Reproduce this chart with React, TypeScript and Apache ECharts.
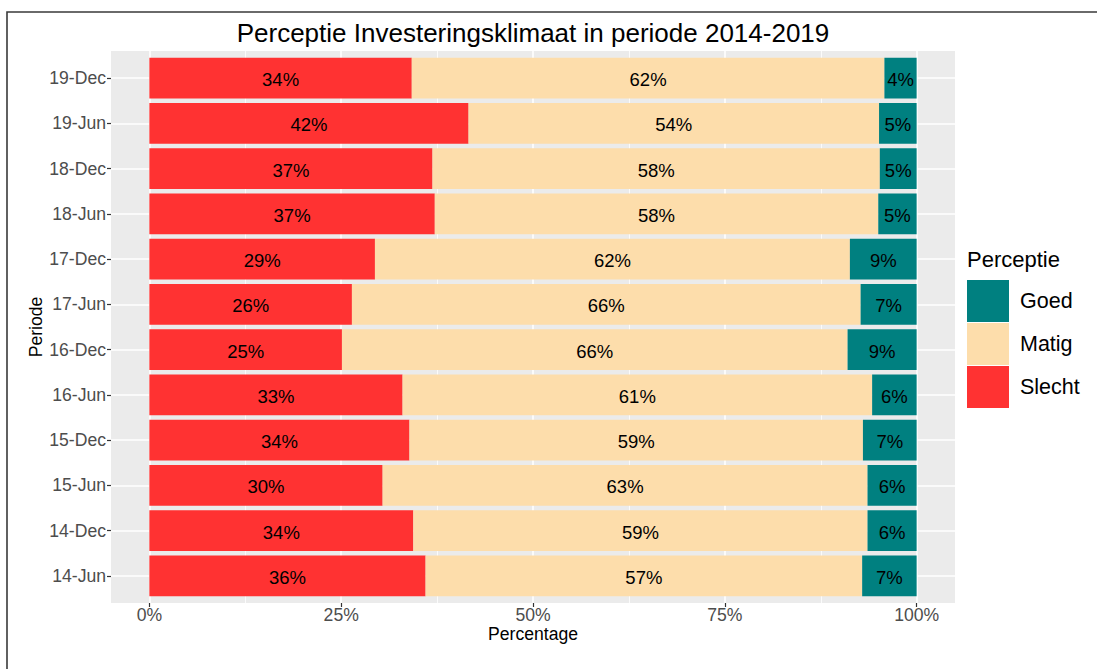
import React, { useEffect, useRef } from "react";
import * as echarts from "echarts";

const categories = ["14-Jun", "14-Dec", "15-Jun", "15-Dec", "16-Jun", "16-Dec", "17-Jun", "17-Dec", "18-Jun", "18-Dec", "19-Jun", "19-Dec"];
const slecht = [36.0, 34.4, 30.4, 33.9, 33.0, 25.1, 26.4, 29.4, 37.2, 36.9, 41.6, 34.2];
const matig = [56.9, 59.2, 63.2, 59.1, 61.2, 65.9, 66.3, 61.9, 57.8, 58.3, 53.5, 61.6];
const goed = [7.1, 6.4, 6.4, 7.0, 5.8, 9.0, 7.3, 8.7, 5.0, 4.8, 4.9, 4.2];
const xTicks = [0, 25, 50, 75, 100];

const FONT = '"Liberation Sans", Arial, Helvetica, sans-serif';
const COLORS = { Slecht: "#FF3232", Matig: "#FDDDAB", Goed: "#008080" };

export default function App() {
  const ref = useRef<HTMLDivElement>(null);
  useEffect(() => {
    if (!ref.current) return;
    const chart = echarts.init(ref.current, null, { renderer: "svg" });
    const mkSeries = (name: string, data: number[]) => ({
      name,
      type: "bar",
      stack: "total",
      xAxisIndex: 3,
      yAxisIndex: 3,
      barCategoryGap: "10%",
      data,
      itemStyle: { color: (COLORS as any)[name] },
      label: {
        show: true,
        position: "inside",
        color: "#000",
        fontSize: 18.5,
        fontFamily: FONT,
        offset: [0, 1.5],
        formatter: (p: any) => Math.round(p.value) + "%",
      },
      z: 3,
    });
    const hiddenVal = (gridIndex: number, min: number, max: number) => ({
      type: "value",
      gridIndex,
      min,
      max,
      show: false,
      splitLine: { show: false },
    });
    chart.setOption({
      animation: false,
      textStyle: { fontFamily: FONT },
      grid: [
        { left: 111, top: 51, width: 844, height: 552, show: true, backgroundColor: "#EBEBEB", borderWidth: 0, z: -10 },
        { left: 149.4, top: 51, width: 767.3, height: 552 },
        { left: 111, top: 78.15, width: 844, height: 497.7 },
        { left: 111, top: 55.5, width: 844, height: 543 },
      ],
      xAxis: [
        hiddenVal(0, -5, 105),
        {
          type: "value",
          gridIndex: 1,
          min: xTicks[0],
          max: xTicks[xTicks.length - 1],
          interval: xTicks[1] - xTicks[0],
          z: 1,
          axisLine: { show: false },
          axisTick: { show: true, length: 4, lineStyle: { color: "#333333", width: 1.2 } },
          axisLabel: { color: "#4D4D4D", fontSize: 17.6, margin: 3, formatter: "{value}%" },
          splitLine: { show: true, lineStyle: { color: "#FFFFFF", width: 1.6 } },
          minorTick: { show: false, splitNumber: 2 },
          minorSplitLine: { show: true, lineStyle: { color: "#FFFFFF", width: 0.8 } },
          name: "Percentage",
          nameLocation: "middle",
          nameGap: 22,
          nameMoveOverlap: false,
          nameTextStyle: { color: "#000", fontSize: 17.6 },
        },
        hiddenVal(2, 0, 1),
        hiddenVal(3, -5, 105),
      ],
      yAxis: [
        hiddenVal(0, 0, 1),
        hiddenVal(1, 0, 1),
        {
          type: "category",
          gridIndex: 2,
          data: categories,
          boundaryGap: false,
          z: 1,
          axisLine: { show: false },
          axisTick: { show: true, length: 4, interval: 0, lineStyle: { color: "#333333", width: 1.2 } },
          axisLabel: { color: "#4D4D4D", fontSize: 17.6, margin: 5, interval: 0 },
          splitLine: { show: true, interval: 0, lineStyle: { color: "#FFFFFF", width: 1.6 } },
          name: "Periode",
          nameLocation: "middle",
          nameGap: 66,
          nameMoveOverlap: false,
          nameTextStyle: { color: "#000", fontSize: 17.6 },
        },
        {
          type: "category",
          gridIndex: 3,
          data: categories,
          show: false,
          splitLine: { show: false },
        },
      ],
      legend: {
        data: ["Goed", "Matig", "Slecht"],
        orient: "vertical",
        left: 967,
        top: 280,
        padding: 0,
        icon: "rect",
        itemWidth: 42,
        itemHeight: 42,
        itemGap: 1,
        textStyle: { color: "#000", fontSize: 21.5, padding: [0, 0, 0, 6] },
      },
      graphic: [
        {
          type: "polyline",
          shape: { points: [[7, 700], [7, 12], [1120, 12]] },
          style: { fill: "none", stroke: "#3A3A3A", lineWidth: 1.6 },
          silent: true,
        },
        {
          type: "text",
          x: 533,
          y: 33,
          style: {
            text: "Perceptie Investeringsklimaat in periode 2014-2019",
            fill: "#000",
            fontSize: 26,
            fontFamily: FONT,
            align: "center",
            verticalAlign: "middle",
          },
        },
        {
          type: "text",
          x: 967,
          y: 259,
          style: {
            text: "Perceptie",
            fill: "#000",
            fontSize: 22,
            fontFamily: FONT,
            align: "left",
            verticalAlign: "middle",
          },
        },
      ],
      series: [mkSeries("Slecht", slecht), mkSeries("Matig", matig), mkSeries("Goed", goed)],
    });
    return () => chart.dispose();
  }, []);
  return <div ref={ref} style={{ position: "fixed", left: 0, top: 0, width: 1097, height: 669, background: "#fff" }} />;
}
